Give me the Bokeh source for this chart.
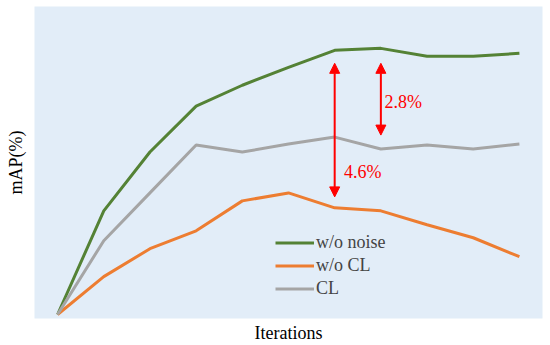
from bokeh.plotting import figure
from bokeh.models import Range1d, Arrow, NormalHead, Label, Legend, LegendItem, ColumnDataSource
from bokeh.embed import file_html
from bokeh.resources import INLINE

iterations = list(range(11))
wo_noise = [4, 108, 167, 213, 234, 252, 269, 271, 263, 263, 266]
wo_cl = [4, 42, 70, 88, 118, 126, 111, 108, 94, 81, 62]
cl = [4, 78, 126, 174, 167, 175, 182, 170, 174, 170, 175]

arrow_x = [6, 7]
arrow_top = [256, 256]
arrow_bottom = [122, 184]
gap_labels = ["4.6%", "2.8%"]
gap_label_x = [6.2, 7.08]
gap_label_y = [147, 217]

FONT = "Liberation Serif"

p = figure(width=550, height=345, output_backend="svg", toolbar_location=None,
           x_range=Range1d(-0.5, 10.5), y_range=Range1d(0, 313),
           min_border_left=34, min_border_right=8, min_border_top=6, min_border_bottom=26)
p.background_fill_color = "#E2EDF8"
p.border_fill_color = "white"
p.outline_line_color = None
p.grid.visible = False

for ax, lab, st in ((p.xaxis[0], "Iterations", 4), (p.yaxis[0], "mAP(%)", 9)):
    ax.ticker = []
    ax.axis_line_color = None
    ax.major_tick_line_color = None
    ax.minor_tick_line_color = None
    ax.major_tick_out = 0
    ax.major_tick_in = 0
    ax.major_label_text_font_size = "0px"
    ax.axis_label = lab
    ax.axis_label_text_font = FONT
    ax.axis_label_text_font_style = "normal"
    ax.axis_label_text_font_size = "18px"
    ax.axis_label_text_color = "black"
    ax.axis_label_standoff = st

src = ColumnDataSource(dict(x=iterations, a=wo_noise, b=wo_cl, c=cl))
r1 = p.line("x", "a", source=src, line_color="#548235", line_width=3)
r2 = p.line("x", "b", source=src, line_color="#ED7D31", line_width=3)
r3 = p.line("x", "c", source=src, line_color="#A5A5A5", line_width=3)

for xi, yt, yb in zip(arrow_x, arrow_top, arrow_bottom):
    p.add_layout(Arrow(x_start=xi, y_start=yb, x_end=xi, y_end=yt,
                       line_color="red", line_width=2,
                       start=NormalHead(size=10, fill_color="red", line_color="red"),
                       end=NormalHead(size=10, fill_color="red", line_color="red")))

for t, lx, ly in zip(gap_labels, gap_label_x, gap_label_y):
    p.add_layout(Label(x=lx, y=ly, text=t, text_font=FONT, text_font_size="18px",
                       text_color="red", text_baseline="middle", text_align="left"))

legend = Legend(items=[LegendItem(label="w/o noise", renderers=[r1]),
                       LegendItem(label="w/o CL", renderers=[r2]),
                       LegendItem(label="CL", renderers=[r3])],
                location=(241, 18))
legend.border_line_color = None
legend.background_fill_alpha = 0
legend.padding = 0
legend.margin = 0
legend.spacing = 0
legend.glyph_width = 39
legend.glyph_height = 23
legend.label_height = 23
legend.label_standoff = 2
legend.label_text_font = FONT
legend.label_text_font_size = "18px"
p.add_layout(legend)

open("out.html", "w").write(file_html(p, INLINE))
